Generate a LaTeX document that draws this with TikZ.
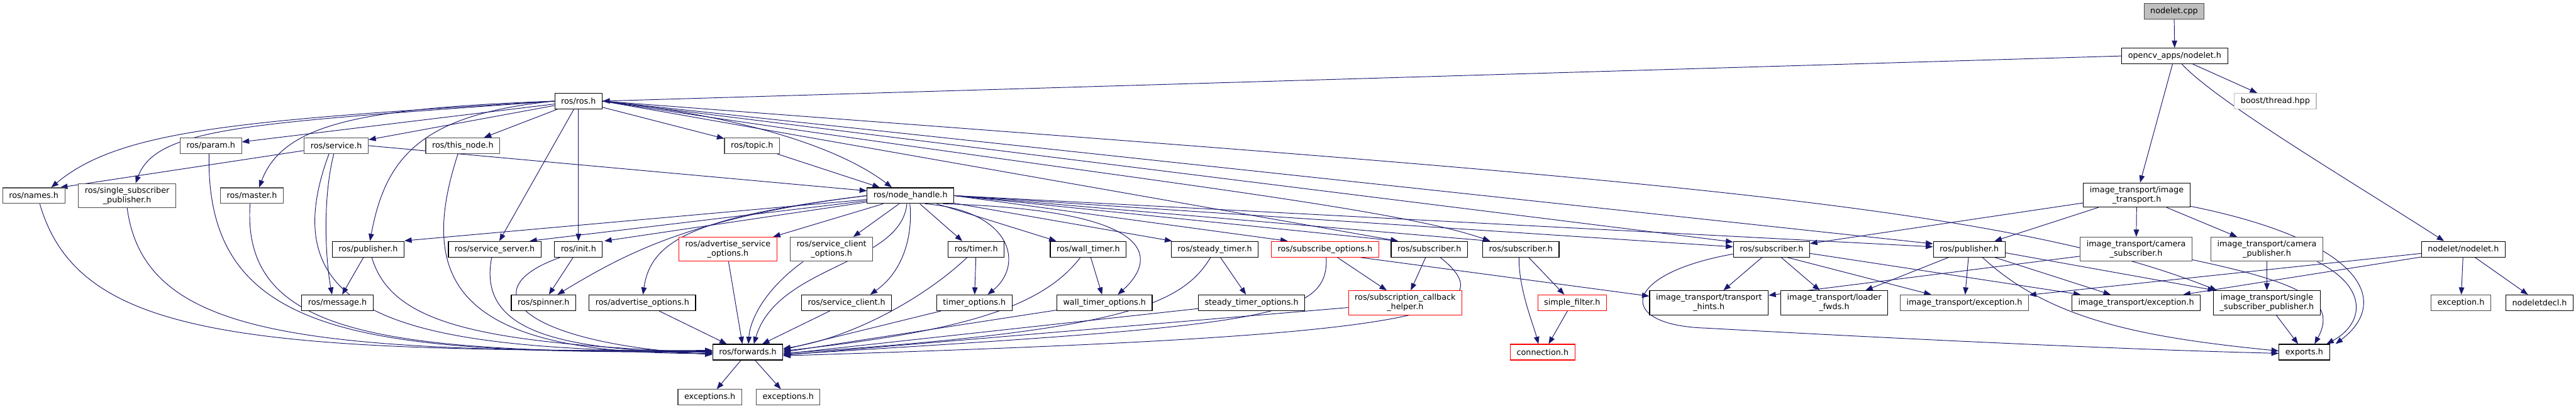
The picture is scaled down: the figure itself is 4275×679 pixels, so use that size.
\documentclass[tikz,border=0pt]{standalone}
\usepackage{fontspec}
\setmainfont{DejaVu Sans}
\usepackage{xcolor}
\usetikzlibrary{positioning, arrows.meta, backgrounds}
\definecolor{edgeblue}{HTML}{191970}
\definecolor{mainfill}{HTML}{BFBFBF}

\begin{document}
\begin{tikzpicture}[
      x=1pt, y=-1pt,
      font=\fontsize{13.33}{15.5}\selectfont,
      file/.style={draw=black, fill=white, line width=1.2pt, minimum height=26pt, inner xsep=10.5pt, inner ysep=2pt, align=center},
      dfile/.style={file, draw=black!70},
      rfile/.style={file, draw=red},
      xfile/.style={file, draw=mainfill},
      two/.style={minimum height=40pt},
      arr/.style={-{Triangle[length=12pt, width=9pt]}, draw=edgeblue, line width=1pt}
    ]
    \useasboundingbox (0,0) rectangle (4275,679);
    %% top
    \node[dfile, fill=mainfill] (cpp) at (3608,19) {nodelet.cpp};
    \node[file] (opencv) at (3609,93) {opencv\_apps/nodelet.h};
    \node[file] (ros) at (960,168) {ros/ros.h};
    \node[xfile] (boost) at (3776,168) {boost/thread.hpp};
    %% row 3
    \node[dfile] (param) at (350,242) {ros/param.h};
    \node[dfile] (service) at (558,242) {ros/service.h};
    \node[dfile] (thisnode) at (768,242) {ros/this\_node.h};
    \node[dfile] (topic) at (1248,242) {ros/topic.h};
    %% row 4
    \node[dfile] (names) at (56,325) {ros/names.h};
    \node[dfile, two] (ssp) at (211,325) {ros/single\_subscriber\\\_publisher.h};
    \node[dfile] (master) at (418,325) {ros/master.h};
    \node[file] (nh) at (1511,325) {ros/node\_handle.h};
    \node[file, two] (itrans) at (3546,324) {image\_transport/image\\\_transport.h};
    %% row 5
    \node[file] (pub1) at (611,414) {ros/publisher.h};
    \node[file] (srvsrv) at (821,414) {ros/service\_server.h};
    \node[file] (init) at (960,414) {ros/init.h};
    \node[rfile, two] (advsrvopt) at (1208,414) {ros/advertise\_service\\\_options.h};
    \node[dfile, two] (srvcliopt) at (1380,414) {ros/service\_client\\\_options.h};
    \node[file] (timer) at (1620,414) {ros/timer.h};
    \node[file] (walltimer) at (1806,414) {ros/wall\_timer.h};
    \node[file] (steadytimer) at (2016,414) {ros/steady\_timer.h};
    \node[rfile] (subopt) at (2199,414) {ros/subscribe\_options.h};
    \node[file] (sub1) at (2372,414) {ros/subscriber.h};
    \node[file, right=24pt of sub1] (sub2) {ros/subscriber.h};
    \node[file] (sub3) at (2940,414) {ros/subscriber.h};
    \node[file] (pub2) at (3268,414) {ros/publisher.h};
    \node[dfile, two] (camsub) at (3545,414) {image\_transport/camera\\\_subscriber.h};
    \node[dfile, two] (campub) at (3762,414) {image\_transport/camera\\\_publisher.h};
    \node[file] (nletnlet) at (4088,414) {nodelet/nodelet.h};
    %% row 6
    \node[file] (message) at (560,503) {ros/message.h};
    \node[file] (spinner) at (902,503) {ros/spinner.h};
    \node[file] (advopt) at (1066,503) {ros/advertise\_options.h};
    \node[file] (srvcli) at (1405,503) {ros/service\_client.h};
    \node[file] (timeropt) at (1617,503) {timer\_options.h};
    \node[file] (walltimeropt) at (1833,503) {wall\_timer\_options.h};
    \node[file] (steadytimeropt) at (2077,503) {steady\_timer\_options.h};
    \node[rfile, two] (subcb) at (2332,503) {ros/subscription\_callback\\\_helper.h};
    \node[rfile] (simplefilter) at (2609,503) {simple\_filter.h};
    \node[file, two] (hints) at (2836,503) {image\_transport/transport\\\_hints.h};
    \node[file, two] (loader) at (3044,503) {image\_transport/loader\\\_fwds.h};
    \node[dfile] (itexc1) at (3260,503) {image\_transport/exception.h};
    \node[file] (itexc2) at (3545,503) {image\_transport/exception.h};
    \node[file, two] (itssp) at (3762,503) {image\_transport/single\\\_subscriber\_publisher.h};
    \node[dfile] (exc) at (4084,503) {exception.h};
    \node[file, right=24pt of exc] (nletdecl) {nodeletdecl.h};
    %% bottom
    \node[file] (fwd) at (1241,585) {ros/forwards.h};
    \node[rfile] (conn) at (2560,585) {connection.h};
    \node[file] (exports) at (3824,585) {exports.h};
    \node[dfile] (excs1) at (1178,660) {exceptions.h};
    \node[dfile, right=23pt of excs1] (excs2) {exceptions.h};

    \begin{scope}[on background layer]
    %% from the top file
    \draw[arr] (cpp) -- (opencv);
    \draw[arr] (opencv.west) -- (ros.east);
    \draw[arr] (opencv) -- (boost);
    \draw[arr] (opencv) -- (itrans);
    \draw[arr] ([xshift=12pt]opencv.south) .. controls (3680,170) and (3900,300) .. ([xshift=-32pt]nletnlet.north);
    %% ros/ros.h
    \draw[arr] (ros.west) .. controls (400,200) and (200,215) .. ([xshift=29pt]names.north);
    \draw[arr] (ros.west) .. controls (420,205) and (260,210) .. ([xshift=14pt]ssp.north);
    \draw[arr] (ros) -- (param);
    \draw[arr] (ros.west) .. controls (600,180) and (470,205) .. ([xshift=12pt]master.north);
    \draw[arr] (ros) -- (service);
    \draw[arr] (ros.west) .. controls (700,190) and (640,260) .. ([xshift=3pt]pub1.north);
    \draw[arr] (ros) -- (thisnode);
    \draw[arr] (ros) -- (srvsrv);
    \draw[arr] (ros) -- (init);
    \draw[arr] (ros) -- (topic);
    \draw[arr] (ros.east) .. controls (1250,195) and (1400,250) .. ([xshift=-31pt]nh.north);
    \draw[arr] (ros.east) -- ([xshift=-52pt]sub1.north);
    \draw[arr] (ros.east) .. controls (1800,290) and (2300,340) .. ([xshift=-51pt]sub2.north);
    \draw[arr] (ros.east) -- ([yshift=12pt]sub3.west);
    \draw[arr] (ros.east) -- ([yshift=9pt]pub2.west);
    \draw[arr] (ros.east) .. controls (2600,290) and (3300,330) .. ([xshift=6pt]itssp.north west);
    %% ros/service.h and ros/topic.h
    \draw[arr] (service) -- ([xshift=44pt]names.north);
    \draw[arr] (service.east) -- ([yshift=8pt]nh.west);
    \draw[arr] ([xshift=-4pt]service.south) .. controls (535,330) and (540,430) .. ([xshift=-9pt]message.north);
    \draw[arr] (topic) -- ([xshift=-51pt]nh.north);
    %% into ros/forwards.h from the left
    \draw[arr] ([xshift=10pt]names.south) .. controls (130,560) and (400,585) .. ([yshift=3pt]fwd.west);
    \draw[arr] (ssp.south) .. controls (240,560) and (500,585) .. ([yshift=2pt]fwd.west);
    \draw[arr] ([xshift=-3pt]param.south) .. controls (340,560) and (600,588) .. ([yshift=1pt]fwd.west);
    \draw[arr] ([xshift=-3pt]master.south) .. controls (400,560) and (640,585) .. (fwd.west);
    \draw[arr] ([xshift=-12pt]service.south) .. controls (440,540) and (700,580) .. (fwd.west);
    \draw[arr] ([xshift=6pt]pub1.south) .. controls (650,540) and (800,570) .. ([yshift=-1pt]fwd.west);
    \draw[arr] ([xshift=-8pt]thisnode.south) .. controls (690,470) and (760,590) .. ([yshift=-2pt]fwd.west);
    \draw[arr] ([xshift=-5pt]srvsrv.south) .. controls (790,560) and (950,580) .. ([yshift=-3pt]fwd.west);
    \draw[arr] ([xshift=-30pt]init.south) .. controls (780,480) and (860,570) .. ([yshift=-4pt]fwd.west);
    %% ros/node_handle.h
    \draw[arr] (nh) -- ([yshift=14pt]pub1.east);
    \draw[arr] (nh) -- ([xshift=58pt]srvsrv.north);
    \draw[arr] (nh) -- ([xshift=43pt]init.north);
    \draw[arr] (nh.west) .. controls (1150,360) and (1040,420) .. ([xshift=23pt]spinner.north);
    \draw[arr] (nh.west) .. controls (1150,360) and (1080,400) .. ([xshift=1pt]advopt.north);
    \draw[arr] (nh) -- ([xshift=75pt]advsrvopt.north);
    \draw[arr] (nh) -- ([xshift=36pt]srvcliopt.north);
    \draw[arr] ([xshift=-6pt]nh.south) .. controls (1495,440) and (1290,440) .. ([xshift=10pt]fwd.north);
    \draw[arr] ([xshift=-1pt]nh.south) .. controls (1515,390) and (1500,450) .. ([xshift=39pt]srvcli.north);
    \draw[arr] (nh) -- ([xshift=-23pt]timer.north);
    \draw[arr] ([xshift=24pt]nh.south) .. controls (1680,350) and (1700,440) .. ([xshift=22pt]timeropt.north);
    \draw[arr] (nh) -- ([xshift=-53pt]walltimer.north);
    \draw[arr] ([xshift=54pt]nh.south) .. controls (1950,350) and (1910,440) .. ([xshift=22pt]walltimeropt.north);
    \draw[arr] (nh) -- ([xshift=-71pt]steadytimer.north);
    \draw[arr] (nh.east) -- ([xshift=-62pt]subopt.north);
    \draw[arr] (nh.east) -- ([xshift=-52pt]sub1.north);
    \draw[arr] (nh.east) -- ([xshift=-51pt]sub2.north);
    \draw[arr] (nh.east) -- ([yshift=4pt]sub3.west);
    \draw[arr] (nh.east) -- ([yshift=4pt]pub2.west);
    %% middle row
    \draw[arr] (pub1) -- (message);
    \draw[arr] (init) -- (spinner);
    \draw[arr] (advopt) -- ([xshift=-35pt]fwd.north);
    \draw[arr] ([xshift=1pt]advsrvopt.south) -- ([xshift=-9pt]fwd.north);
    \draw[arr] ([xshift=-47pt]srvcliopt.south) .. controls (1270,480) and (1245,530) .. ([xshift=1pt]fwd.north);
    \draw[arr] (srvcli) -- ([xshift=24pt]fwd.north);
    \draw[arr] (timer) -- (timeropt);
    \draw[arr] ([xshift=-15pt]timer.south) .. controls (1540,490) and (1420,560) .. ([yshift=6pt]fwd.east);
    \draw[arr] (timeropt) -- ([yshift=4pt]fwd.east);
    \draw[arr] (walltimer) -- (walltimeropt);
    \draw[arr] ([xshift=-13pt]walltimer.south) .. controls (1730,510) and (1600,550) .. ([yshift=2pt]fwd.east);
    \draw[arr] (walltimeropt) -- (fwd.east);
    \draw[arr] (steadytimer) -- (steadytimeropt);
    \draw[arr] ([xshift=-7pt]steadytimer.south) .. controls (1960,510) and (1850,550) .. ([yshift=-2pt]fwd.east);
    \draw[arr] (steadytimeropt) -- ([yshift=-3pt]fwd.east);
    \draw[arr] ([xshift=2pt]subopt.south) .. controls (2205,530) and (2100,540) .. ([yshift=-4pt]fwd.east);
    \draw[arr] (subopt) -- (subcb);
    \draw[arr] ([xshift=58pt]subopt.south) -- ([yshift=11pt]hints.west);
    \draw[arr] (subcb) -- ([yshift=-5pt]fwd.east);
    \draw[arr] (sub1) -- (subcb);
    \draw[arr] ([xshift=18pt]sub1.south) .. controls (2520,530) and (2300,560) .. ([yshift=-6pt]fwd.east);
    \draw[arr] (sub2) -- (simplefilter);
    \draw[arr] ([xshift=-3pt]sub2.south) .. controls (2520,480) and (2545,540) .. ([xshift=-7pt]conn.north);
    \draw[arr] (simplefilter) -- ([xshift=10pt]conn.north);
    %% image_transport side
    \draw[arr] (sub3) -- (hints);
    \draw[arr] (sub3) -- (loader);
    \draw[arr] ([xshift=26pt]sub3.south) -- ([xshift=-55pt]itexc1.north);
    \draw[arr] ([yshift=-7pt]sub3.east) -- ([xshift=-92pt]itexc2.north);
    \draw[arr] ([yshift=-8pt]sub3.west) .. controls (2690,455) and (2680,540) .. (2830,545) .. controls (3100,560) and (3500,580) .. ([yshift=-2pt]exports.west);
    \draw[arr] (pub2) -- (loader);
    \draw[arr] (pub2) -- (itexc1);
    \draw[arr] (pub2) -- (itexc2);
    \draw[arr] ([yshift=-6pt]pub2.east) -- ([xshift=3pt]itssp.north west);
    \draw[arr] ([xshift=22pt]pub2.south) .. controls (3400,530) and (3550,560) .. ([yshift=2pt]exports.west);
    \draw[arr] (itrans) -- (sub3);
    \draw[arr] (itrans) -- (pub2);
    \draw[arr] (itrans) -- (camsub);
    \draw[arr] (itrans) -- (campub);
    \draw[arr] ([yshift=2pt]itrans.south east) .. controls (3920,400) and (3970,500) .. ([xshift=52pt]exports.north);
    \draw[arr] (camsub) -- (hints);
    \draw[arr] ([yshift=3pt]camsub.south east) .. controls (3820,470) and (3880,500) .. ([xshift=17pt]exports.north);
    \draw[arr] (campub) -- (itssp);
    \draw[arr] ([xshift=-10pt]campub.south east) .. controls (3935,480) and (3920,540) .. ([xshift=37pt]exports.north);
    \draw[arr] (itssp) -- (exports);
    \draw[arr] ([yshift=-7pt]nletnlet.west) -- ([yshift=13pt]itexc1.east);
    \draw[arr] ([yshift=-13pt]nletnlet.west) -- ([xshift=-29pt]itexc2.north east);
    \draw[arr] (nletnlet) -- (exc);
    \draw[arr] (nletnlet) -- (nletdecl);
    %% bottom
    \draw[arr] (fwd) -- (excs1);
    \draw[arr] (fwd) -- (excs2);
    \end{scope}
\end{tikzpicture}
\end{document}
